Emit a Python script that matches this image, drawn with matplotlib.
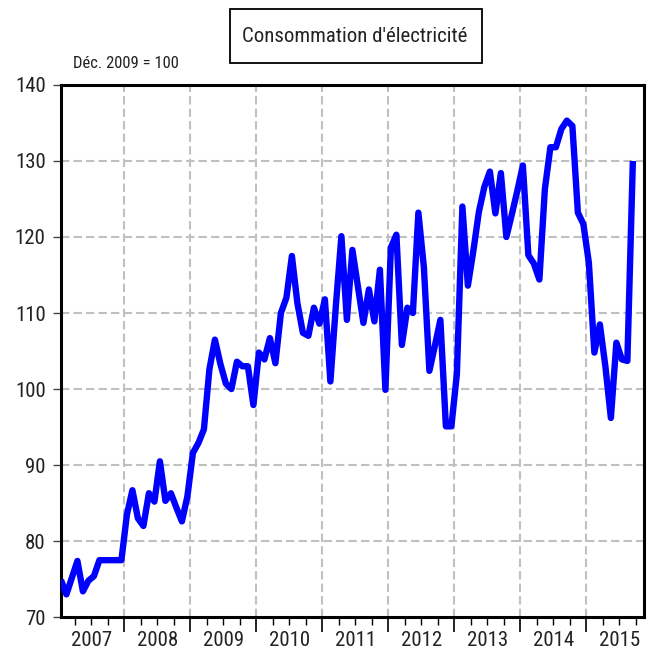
import matplotlib
matplotlib.use("Agg")
import matplotlib.pyplot as plt
import matplotlib.transforms as mtransforms
from matplotlib.patches import Rectangle
import numpy as np

plt.rcParams['font.family'] = ['Roboto Condensed', 'DejaVu Sans']

# indice mensuel, janvier 2007 -> septembre 2015 (Déc. 2009 = 100)
consommation = [
    74.9, 73.0, 75.2, 77.4, 73.4, 74.8, 75.4, 77.5, 77.5, 77.5, 77.5, 77.5,      # 2007
    83.5, 86.7, 83.0, 82.0, 86.3, 85.2, 90.5, 85.3, 86.3, 84.4, 82.6, 85.9,      # 2008
    91.6, 92.9, 94.7, 102.6, 106.5, 103.3, 100.7, 100.0, 103.6, 103.0, 103.0, 97.9,  # 2009
    104.8, 103.9, 106.7, 103.4, 110.0, 112.0, 117.5, 111.3, 107.4, 107.0, 110.7, 108.6,  # 2010
    111.8, 101.0, 111.0, 120.1, 109.1, 118.3, 113.5, 108.7, 113.1, 108.9, 115.7, 99.9,  # 2011
    118.6, 120.3, 105.8, 110.7, 110.0, 123.2, 116.0, 102.4, 105.7, 109.1, 95.1, 95.1,   # 2012
    102.0, 124.0, 113.6, 118.2, 123.3, 126.6, 128.6, 123.1, 128.4, 120.0, 123.0, 126.1,  # 2013
    129.4, 117.6, 116.5, 114.4, 126.3, 131.8, 131.8, 134.2, 135.3, 134.6, 123.2, 121.7,  # 2014
    116.6, 104.8, 108.5, 103.0, 96.2, 106.1, 103.9, 103.7, 130.0,                  # 2015
]
annees = ["2007", "2008", "2009", "2010", "2011", "2012", "2013", "2014", "2015"]
y_ticks = [70, 80, 90, 100, 110, 120, 130, 140]

mois = np.arange(len(consommation))

fig = plt.figure(figsize=(6.55, 6.58), dpi=100)
ax = fig.add_axes([0.093, 0.062, 0.890, 0.809])

ax.plot(mois, consommation, color='#0000ff', lw=4.6, solid_joinstyle='round',
        solid_capstyle='butt', zorder=3)

ax.set_xlim(0, 106)
ax.set_ylim(70, 140)

# limites d'annees et trimestres
bornes = np.arange(11.5, 106, 12)
trimestres = [b for b in np.arange(-0.5, 106, 3) if b > 0 and (b - 11.5) % 12 != 0]
ax.set_xticks(bornes)
ax.set_xticks(trimestres, minor=True)
ax.set_xticklabels([])
ax.tick_params(axis='x', which='major', direction='out', length=11, width=1.2, color='black')
ax.tick_params(axis='x', which='minor', direction='out', length=6, width=1.0, color='black')

trans = mtransforms.blended_transform_factory(ax.transData, ax.transAxes)
for i, a in enumerate(annees):
    ax.text(5.5 + 12 * i, -0.043, a, transform=trans, ha='center', va='center',
            fontsize=15, color='#222222')

ax.set_yticks(y_ticks)
ax.set_yticklabels([str(v) for v in y_ticks], fontsize=15, color='#222222')
ax.tick_params(axis='y', direction='out', length=6, width=1.0, color='#444444', pad=5)

for v in y_ticks[1:-1]:
    ax.axhline(v, color='#c0c0c0', lw=1.5, dashes=(4, 2), zorder=1)
for b in bornes:
    ax.axvline(b, color='#c0c0c0', lw=1.5, dashes=(4, 2), zorder=1)

for s in ax.spines.values():
    s.set_linewidth(2.2)
    s.set_color('black')

fig.text(73 / 655, 1 - 63 / 658, "Déc. 2009 = 100", fontsize=12, ha='left', va='center',
         color='#222222')

fig.patches.append(Rectangle((230 / 655, 1 - 62.7 / 658), 252 / 655, 53.4 / 658,
                             transform=fig.transFigure, fill=False, lw=1.3,
                             edgecolor='black'))
fig.text(355 / 655, 1 - 36 / 658, "Consommation d'électricité", fontsize=15,
         ha='center', va='center', color='#222222')

fig.savefig("out.png", dpi=100)
